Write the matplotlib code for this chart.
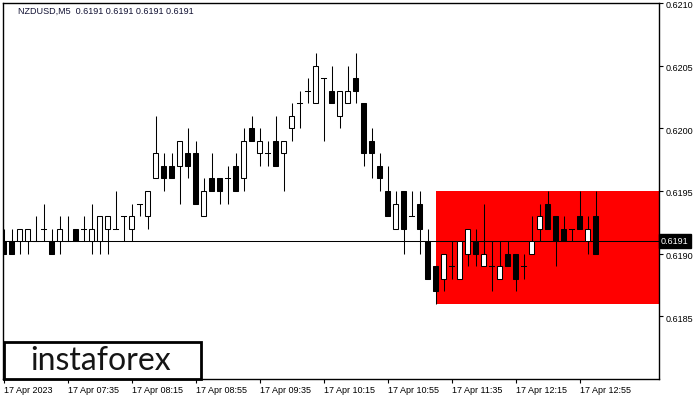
import matplotlib
matplotlib.use("Agg")
import matplotlib.pyplot as plt
from matplotlib.patches import Rectangle
from matplotlib.transforms import ScaledTranslation

# M5 bars, NZDUSD (4-digit quotes)
opens = [0.6191, 0.6191, 0.6191, 0.6191, 0.6191, 0.6192, 0.6191, 0.6191, 0.6191, 0.6192,
         0.6192, 0.6191, 0.6191, 0.6192, 0.6192, 0.6193, 0.6192, 0.6194, 0.6193, 0.6196,
         0.6197, 0.6197, 0.6197, 0.6198, 0.6198, 0.6193, 0.6196, 0.6196, 0.6196, 0.6197,
         0.6196, 0.6200, 0.6198, 0.6198, 0.6199, 0.6198, 0.6200, 0.6202, 0.6203, 0.6202,
         0.6204, 0.6203, 0.6201, 0.6202, 0.6204, 0.6202, 0.6199, 0.6197, 0.6195, 0.6192,
         0.6195, 0.6193, 0.6194, 0.6191, 0.6189, 0.6188, 0.6189, 0.6188, 0.6190, 0.6191,
         0.6189, 0.6189, 0.6188, 0.6190, 0.6190, 0.6189, 0.6190, 0.6192, 0.6194, 0.6193,
         0.6192, 0.6192, 0.6193, 0.6191, 0.6193]
highs = [0.6192, 0.6192, 0.6192, 0.6192, 0.6193, 0.6194, 0.6192, 0.6193, 0.6193, 0.6192,
         0.6193, 0.6194, 0.6193, 0.6193, 0.6195, 0.6193, 0.6194, 0.6194, 0.6195, 0.6201,
         0.6198, 0.6198, 0.6199, 0.6200, 0.6199, 0.6196, 0.6198, 0.6196, 0.6197, 0.6198,
         0.6200, 0.6201, 0.6200, 0.6199, 0.6201, 0.6199, 0.6202, 0.6203, 0.6204, 0.6206,
         0.6204, 0.6205, 0.6203, 0.6205, 0.6206, 0.6202, 0.6200, 0.6198, 0.6197, 0.6195,
         0.6195, 0.6195, 0.6195, 0.6192, 0.6189, 0.6190, 0.6191, 0.6191, 0.6192, 0.6192,
         0.6194, 0.6191, 0.6191, 0.6191, 0.6190, 0.6190, 0.6193, 0.6194, 0.6195, 0.6193,
         0.6193, 0.6192, 0.6195, 0.6193, 0.6195]
lows = [0.6190, 0.6190, 0.6190, 0.6190, 0.6191, 0.6191, 0.6190, 0.6190, 0.6191, 0.6191,
        0.6191, 0.6190, 0.6190, 0.6190, 0.6192, 0.6191, 0.6191, 0.6193, 0.6192, 0.6196,
        0.6195, 0.6196, 0.6194, 0.6196, 0.6194, 0.6193, 0.6195, 0.6194, 0.6194, 0.6195,
        0.6195, 0.6199, 0.6197, 0.6197, 0.6197, 0.6195, 0.6199, 0.6200, 0.6202, 0.6202,
        0.6199, 0.6202, 0.6200, 0.6202, 0.6202, 0.6197, 0.6196, 0.6195, 0.6193, 0.6192,
        0.6190, 0.6193, 0.6190, 0.6188, 0.6186, 0.6187, 0.6188, 0.6188, 0.6189, 0.6189,
        0.6189, 0.6187, 0.6188, 0.6189, 0.6187, 0.6188, 0.6190, 0.6191, 0.6192, 0.6189,
        0.6191, 0.6191, 0.6192, 0.6190, 0.6190]
closes = [0.6190, 0.6190, 0.6192, 0.6192, 0.6191, 0.6192, 0.6190, 0.6192, 0.6191, 0.6191,
          0.6192, 0.6192, 0.6193, 0.6193, 0.6192, 0.6193, 0.6193, 0.6194, 0.6195, 0.6198,
          0.6196, 0.6196, 0.6199, 0.6197, 0.6194, 0.6195, 0.6195, 0.6195, 0.6196, 0.6195,
          0.6199, 0.6199, 0.6199, 0.6198, 0.6197, 0.6199, 0.6201, 0.6202, 0.6203, 0.6205,
          0.6204, 0.6202, 0.6203, 0.6203, 0.6203, 0.6198, 0.6198, 0.6196, 0.6193, 0.6194,
          0.6192, 0.6193, 0.6192, 0.6188, 0.6187, 0.6190, 0.6189, 0.6191, 0.6192, 0.6190,
          0.6190, 0.6189, 0.6189, 0.6189, 0.6188, 0.6189, 0.6191, 0.6193, 0.6192, 0.6191,
          0.6191, 0.6192, 0.6192, 0.6192, 0.6190]

time_labels = ["17 Apr 2023", "17 Apr 07:35", "17 Apr 08:15", "17 Apr 08:55", "17 Apr 09:35",
               "17 Apr 10:15", "17 Apr 10:55", "17 Apr 11:35", "17 Apr 12:15", "17 Apr 12:55"]
label_step = 8
price_ticks = [0.6185, 0.6190, 0.6195, 0.6200, 0.6205, 0.6210]
last_price = 0.6191
zone_start = 54
zone_top = 0.6195
zone_bottom = 0.6186

small = ["Liberation Sans", "DejaVu Sans"]

fig = plt.figure(figsize=(7, 4), dpi=100)
ax = fig.add_axes([3 / 700, 21 / 400, 656 / 700, 376 / 400])
ax.set_xlim(-0.1, -0.1 + 656 / 8)
ax.set_ylim(0.6180, 0.6210)

lw = 0.75
ax.add_patch(Rectangle((zone_start, zone_bottom), 100, zone_top - zone_bottom,
                       facecolor="#ff0000", edgecolor="none", zorder=1))
ax.axhline(last_price, color="black", lw=lw, zorder=2)

bw = 0.65
for i in range(len(opens)):
    o, h, l, c = opens[i], highs[i], lows[i], closes[i]
    ax.plot([i, i], [l, h], color="black", lw=lw, zorder=3, solid_capstyle="butt")
    if o == c:
        ax.plot([i - bw / 2, i + bw / 2], [o, o], color="black", lw=lw, zorder=4)
    else:
        lo, hi = min(o, c), max(o, c)
        fc = "white" if c > o else "black"
        ax.add_patch(Rectangle((i - bw / 2, lo), bw, hi - lo, facecolor=fc,
                               edgecolor="black", lw=lw, zorder=4))

ax.set_xticks(range(0, label_step * len(time_labels), label_step))
ax.set_xticklabels(time_labels, ha="left", fontsize=6.5, family=small)
ax.tick_params(axis="x", length=3, width=0.8, pad=2)
ax.yaxis.tick_right()
ax.set_yticks(price_ticks)
ax.set_yticklabels([f"{p:.4f}" for p in price_ticks], fontsize=6.5, family=small)
ax.tick_params(axis="y", length=3, width=0.8, pad=2)
down = ScaledTranslation(0, -2 / 100, fig.dpi_scale_trans)
for t in ax.get_yticklabels():
    t.set_transform(t.get_transform() + down)
for s in ax.spines.values():
    s.set_linewidth(1.0)

ax.text(1.003, last_price, f"{last_price:.4f}", transform=ax.get_yaxis_transform(),
        fontsize=6.5, family=small, color="white", va="center", ha="left",
        bbox=dict(boxstyle="square,pad=0.25", facecolor="black", edgecolor="black"))

fig.text(18 / 700, 1 - 11 / 400, "NZDUSD,M5  0.6191 0.6191 0.6191 0.6191",
         fontsize=6.5, family=small, color="#111133", va="center")

fig.patches.append(Rectangle((4 / 700, 21 / 400), 197 / 700, 37 / 400, transform=fig.transFigure,
                             facecolor="white", edgecolor="black", lw=2, zorder=5))
fig.text(101 / 700, 1 - 361 / 400, "instaforex", fontsize=23, family=["Lato", "DejaVu Sans"],
         color="#151515", ha="center", va="center", zorder=6)

fig.savefig("out.png", dpi=100)
